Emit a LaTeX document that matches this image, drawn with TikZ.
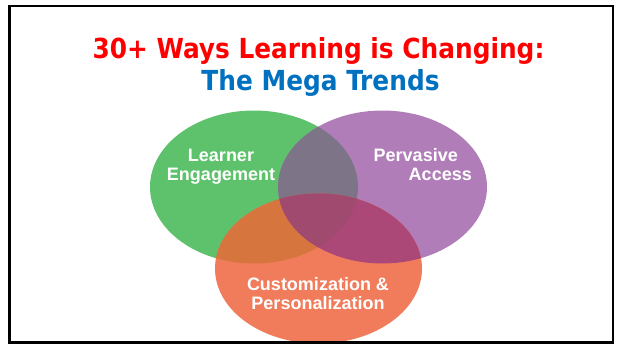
\documentclass[tikz,border=0pt]{standalone}
\usepackage{fontspec}
\setmainfont{Liberation Sans}
\newfontfamily\titlefont{DejaVu Sans Condensed}[BoldFont={DejaVu Sans Condensed Bold}]
\definecolor{cgreen}{HTML}{5EC26C}
\definecolor{cpurple}{HTML}{B07DB8}
\definecolor{corange}{HTML}{F07C5C}
\definecolor{cgp}{HTML}{7E7488}
\definecolor{cgo}{HTML}{D6763E}
\definecolor{cpo}{HTML}{AC4878}
\definecolor{cgpo}{HTML}{A04A70}
\definecolor{ctitlered}{HTML}{FF0000}
\definecolor{ctitleblue}{HTML}{0070C0}
\begin{document}
\begin{tikzpicture}[x=1pt,y=-1pt,
  lbl/.style={text=white,font=\fontsize{18}{18.5}\selectfont\bfseries,inner sep=0pt},
  ttl/.style={font=\titlefont\fontsize{27.6}{30}\selectfont\bfseries,inner sep=0pt,anchor=base}]
\useasboundingbox (0,0) rectangle (622,346);
\fill[white] (0,0) rectangle (622,346);
\def\G{(254,187) ellipse [x radius=104,y radius=76.5]}
\def\P{(382.5,187) ellipse [x radius=104.5,y radius=76.5]}
\def\O{(318.5,268.5) ellipse [x radius=103.5,y radius=75]}
\fill[cgreen] \G;
\fill[cpurple] \P;
\fill[corange] \O;
\begin{scope}\clip \G; \fill[cgp] \P; \end{scope}
\begin{scope}\clip \G; \fill[cgo] \O; \end{scope}
\begin{scope}\clip \P; \fill[cpo] \O; \end{scope}
\begin{scope}\clip \G; \clip \P; \fill[cgpo] \O; \end{scope}
\draw[line width=2.5pt] (9.5,6) rectangle (613,342.5);
\node[ttl,text=ctitlered] (t1) at (318.5,58) {30+ Ways Learning is Changing:};
\node[ttl,text=ctitleblue] (t2) at (320.5,90) {The Mega Trends};
\node[lbl,align=center,anchor=base] (le) at (221,180) {Learner\\Engagement};
\node[lbl,align=right,anchor=base east] (pa) at (472,180) {Pervasive\hspace*{14pt}\\Access};
\node[lbl,align=center,anchor=base] (cp) at (318,309) {Customization \&\\Personalization};
\end{tikzpicture}
\end{document}
